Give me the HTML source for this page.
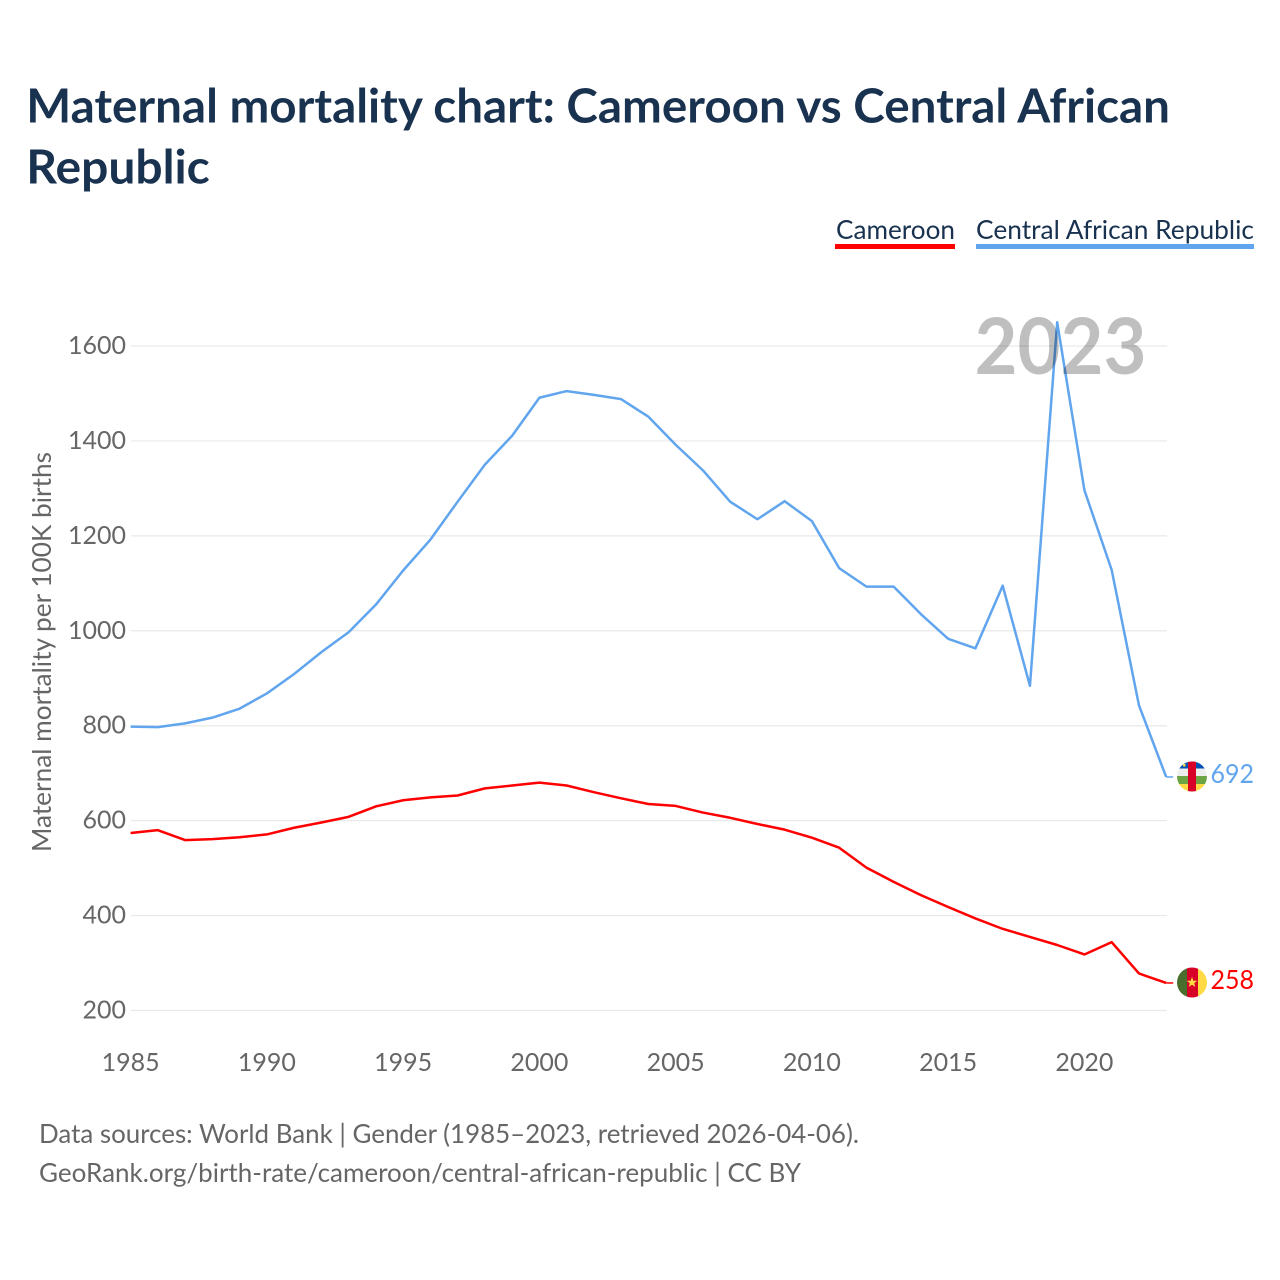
<!DOCTYPE html>
<html lang="en">
<head>
<meta charset="utf-8">
<title>Maternal mortality chart: Cameroon vs Central African Republic</title>
<style>
html,body{margin:0;padding:0;background:#fff;}
svg{display:block;}
text{font-family:Lato,Carlito,"Liberation Sans",sans-serif;}
</style>
</head>
<body>
<svg id="chart" xmlns="http://www.w3.org/2000/svg" width="1280" height="1280" viewBox="0 0 1280 1280">
  <rect width="1280" height="1280" fill="#fff"/>
  <text x="26.3" y="122.5" font-size="47" font-weight="700" fill="#18324f" textLength="1143.7" lengthAdjust="spacingAndGlyphs">Maternal mortality chart: Cameroon vs Central African</text>
  <text x="26.3" y="183.5" font-size="47" font-weight="700" fill="#18324f" textLength="183.5" lengthAdjust="spacingAndGlyphs">Republic</text>

  <g>
    <text x="836" y="239" font-size="26" fill="#18324f" textLength="119" lengthAdjust="spacingAndGlyphs">Cameroon</text>
    <rect x="835" y="244" width="120" height="5" fill="#ff0000"/>
  </g>
  <g>
    <text x="976" y="239" font-size="26" fill="#18324f" textLength="278" lengthAdjust="spacingAndGlyphs">Central African Republic</text>
    <rect x="976" y="244" width="278" height="5" fill="#60a5ee"/>
  </g>

  <g id="grid"></g>
  <g id="yticks"></g>
  <g id="xticks"></g>
  <text transform="translate(51,652) rotate(-90)" text-anchor="middle" font-size="26" fill="#666" textLength="400" lengthAdjust="spacingAndGlyphs">Maternal mortality per 100K births</text>

  <g id="series"></g>

  <text x="1060.5" y="374" text-anchor="middle" font-size="78" font-weight="700" fill="#000" fill-opacity="0.25" textLength="172" lengthAdjust="spacingAndGlyphs">2023</text>

  <defs>
    <clipPath id="flag-clip-caf"><circle cx="1192" cy="776.5" r="15"/></clipPath>
    <clipPath id="flag-clip-cmr"><circle cx="1192" cy="982.5" r="15"/></clipPath>
  </defs>
  <g id="flag-caf" clip-path="url(#flag-clip-caf)">
    <rect x="1177" y="761" width="30" height="7.5" fill="#0052b4"/>
    <rect x="1177" y="768.5" width="30" height="7.5" fill="#eeeeee"/>
    <rect x="1177" y="776" width="30" height="8" fill="#6da544"/>
    <rect x="1177" y="784" width="30" height="8" fill="#ffda44"/>
    <rect x="1188" y="761" width="8" height="31" fill="#d80027"/>
    <rect x="1183" y="764" width="2.5" height="2.5" fill="#ffda44"/>
  </g>
  <g id="flag-cmr" clip-path="url(#flag-clip-cmr)">
    <rect x="1177" y="967" width="10" height="31" fill="#496e2d"/>
    <rect x="1187" y="967" width="11" height="31" fill="#d80027"/>
    <rect x="1198" y="967" width="9" height="31" fill="#ffda44"/>
    <polygon points="1192,977 1193.4,980.7 1197.3,980.7 1194.2,983.1 1195.3,986.9 1192,984.7 1188.7,986.9 1189.8,983.1 1186.7,980.7 1190.6,980.7" fill="#ffda44"/>
  </g>
  <text id="end-caf" x="1210.5" y="783" font-size="26" fill="#60a5ee" textLength="43.5" lengthAdjust="spacingAndGlyphs"></text>
  <text id="end-cmr" x="1210.5" y="989" font-size="26" fill="#ff0000" textLength="43.5" lengthAdjust="spacingAndGlyphs"></text>

  <text x="39" y="1143" font-size="26" fill="#666" textLength="820" lengthAdjust="spacingAndGlyphs">Data sources: World Bank | Gender (1985–2023, retrieved 2026-04-06).</text>
  <text x="39" y="1182" font-size="26" fill="#666" textLength="762" lengthAdjust="spacingAndGlyphs">GeoRank.org/birth-rate/cameroon/central-african-republic | CC BY</text>
</svg>
<script>
const years = [1985,1986,1987,1988,1989,1990,1991,1992,1993,1994,1995,1996,1997,1998,1999,2000,2001,2002,2003,2004,2005,2006,2007,2008,2009,2010,2011,2012,2013,2014,2015,2016,2017,2018,2019,2020,2021,2022,2023];
const cameroon = [574,580,559,561,565,571,585,596,608,630,643,649,653,668,674,680,674,660,647,635,631,617,606,593,581,564,543,501,471,443,418,394,372,355,338,318,344,278,258];
const centralAfricanRepublic = [798,797,805,817,836,868,909,955,997,1055,1127,1192,1272,1350,1411,1491,1505,1497,1488,1451,1392,1338,1272,1235,1273,1231,1132,1093,1093,1035,983,963,1095,884,1650,1296,1128,843,692];
const yTickValues = [200,400,600,800,1000,1200,1400,1600];
const xTickValues = [1985,1990,1995,2000,2005,2010,2015,2020];

const NS = 'http://www.w3.org/2000/svg';
function xScale(year){ return 130.6 + (year - 1985) * (1035.6 / 38); }
function yScale(value){ return 1010.5 - (value - 200) * (664.5 / 1400); }
function make(tag, parent){
  const el = document.createElementNS(NS, tag);
  parent.appendChild(el);
  return el;
}

const grid = document.getElementById('grid');
const yticks = document.getElementById('yticks');
yTickValues.forEach(function(v){
  const line = make('line', grid);
  
  
  line.setAttribute('x1', 131);
  line.setAttribute('x2', 1167);
  line.setAttribute('y1', yScale(v));
  line.setAttribute('y2', yScale(v));
  line.setAttribute('stroke', '#e9e9e9');
  line.setAttribute('stroke-width', '1.2');
  const t = make('text', yticks);
  
  
  t.setAttribute('x', 126);
  t.setAttribute('y', yScale(v) + 8);
  t.setAttribute('text-anchor', 'end');
  t.setAttribute('font-size', '25');
  t.setAttribute('fill', '#666');
  t.textContent = v;
});

const xticks = document.getElementById('xticks');
xTickValues.forEach(function(y){
  const t = make('text', xticks);
  
  
  t.setAttribute('x', xScale(y));
  t.setAttribute('y', 1071);
  t.setAttribute('text-anchor', 'middle');
  t.setAttribute('font-size', '25');
  t.setAttribute('fill', '#666');
  t.textContent = y;
});

const seriesGroup = document.getElementById('series');
function drawSeries(values, color, name){
  const pts = values.map(function(v, i){ return xScale(years[i]).toFixed(2) + ',' + yScale(v).toFixed(2); });
  const p = make('polyline', seriesGroup);
  
  
  p.setAttribute('points', pts.join(' '));
  p.setAttribute('fill', 'none');
  p.setAttribute('stroke', color);
  p.setAttribute('stroke-width', '2.5');
  p.setAttribute('stroke-linejoin', 'round');
  const last = values[values.length - 1];
  const lastYear = years[years.length - 1];
  const c = make('line', seriesGroup);
  
  
  c.setAttribute('x1', xScale(lastYear));
  c.setAttribute('x2', xScale(lastYear) + 7);
  c.setAttribute('y1', yScale(last));
  c.setAttribute('y2', yScale(last));
  c.setAttribute('stroke', color);
  c.setAttribute('stroke-width', '1.5');
}
drawSeries(centralAfricanRepublic, '#60a5ee', 'line-central-african-republic');
drawSeries(cameroon, '#ff0000', 'line-cameroon');

document.getElementById('end-caf').textContent = centralAfricanRepublic[centralAfricanRepublic.length - 1];
document.getElementById('end-cmr').textContent = cameroon[cameroon.length - 1];
</script>
</body>
</html>
